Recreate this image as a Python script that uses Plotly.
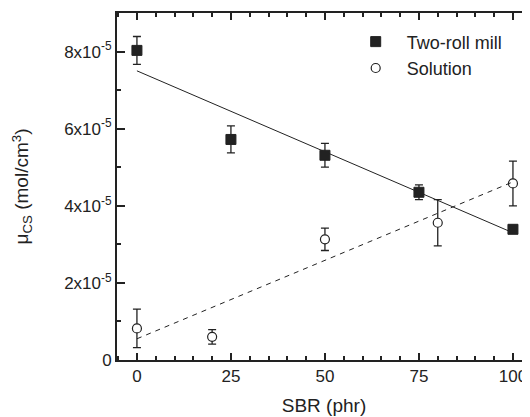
import plotly.graph_objects as go

# ---- data ----
mill_x = [0, 25, 50, 75, 100]
mill_y = [8.03e-5, 5.72e-5, 5.31e-5, 4.35e-5, 3.39e-5]
mill_err = [0.36e-5, 0.35e-5, 0.31e-5, 0.19e-5, 0.10e-5]

sol_x = [0, 20, 50, 80, 100]
sol_y = [0.82e-5, 0.60e-5, 3.13e-5, 3.56e-5, 4.58e-5]
sol_err = [0.50e-5, 0.19e-5, 0.29e-5, 0.60e-5, 0.58e-5]

fit_x = [0, 100]
mill_fit = [7.50e-5, 3.30e-5]
sol_fit = [0.55e-5, 4.62e-5]

x_ticks = [0, 25, 50, 75, 100]
y_ticks = [0, 2e-5, 4e-5, 6e-5, 8e-5]
y_tick_text = ["0", "2x10<sup>-5</sup>", "4x10<sup>-5</sup>", "6x10<sup>-5</sup>", "8x10<sup>-5</sup>"]

INK = "#222222"
FONT = "Liberation Sans, Arial, sans-serif"

fig = go.Figure()

fig.add_trace(go.Scatter(x=fit_x, y=mill_fit, mode="lines", yaxis="y2",
                         line=dict(color=INK, width=1), showlegend=False, hoverinfo="skip"))
fig.add_trace(go.Scatter(x=fit_x, y=sol_fit, mode="lines", yaxis="y2",
                         line=dict(color=INK, width=1, dash="5px,5px"), showlegend=False, hoverinfo="skip"))

fig.add_trace(go.Scatter(
    x=mill_x, y=mill_y, mode="markers", name="Two-roll mill",
    marker=dict(symbol="square", size=10, color=INK, line=dict(color=INK, width=1)),
    error_y=dict(type="data", array=mill_err, color=INK, thickness=1.3, width=4)))
fig.add_trace(go.Scatter(
    x=sol_x, y=sol_y, mode="markers", name="Solution",
    marker=dict(symbol="circle", size=9, color="white", line=dict(color=INK, width=1.2)),
    error_y=dict(type="data", array=sol_err, color=INK, thickness=1.3, width=4)))

axis_common = dict(showgrid=False, zeroline=False, linecolor=INK, linewidth=2,
                   tickcolor=INK, tickwidth=1.5, ticks="inside")

fig.update_layout(
    width=530, height=417,
    margin=dict(l=109, r=7, t=5, b=65, autoexpand=False),
    paper_bgcolor="white", plot_bgcolor="white",
    font=dict(family=FONT, size=17, color=INK),
    xaxis=dict(range=[-5.3, 104.8], tickvals=x_ticks, ticklen=7, mirror="ticks",
               showline=True, minor=dict(dtick=5, ticks="inside", ticklen=4, tickcolor=INK, tickwidth=1.5),
               title=dict(text="SBR (phr)", font=dict(size=19), standoff=13), automargin=False,
               **axis_common),
    yaxis=dict(range=[0, 9e-5], tickvals=y_ticks, ticktext=y_tick_text, ticklen=8,
               showline=True, minor=dict(dtick=1e-5, ticks="inside", ticklen=4, tickcolor=INK, tickwidth=1.5),
               title=dict(text="μ<sub>CS</sub> (mol/cm<sup>3</sup>)", font=dict(size=19), standoff=30),
               automargin=False, **axis_common),
    yaxis2=dict(overlaying="y", matches="y", side="right", showline=False, showticklabels=False,
                tickvals=y_ticks, ticklen=8, ticks="inside", tickcolor=INK, tickwidth=1.5,
                minor=dict(dtick=1e-5, ticks="inside", ticklen=4, tickcolor=INK, tickwidth=1.5),
                showgrid=False, zeroline=False),
    legend=dict(x=0.55, y=0.97, xanchor="left", yanchor="top", bgcolor="rgba(0,0,0,0)",
                font=dict(size=18, color=INK), itemwidth=52, tracegroupgap=0),
    showlegend=True,
)

fig.write_html("out.html")
